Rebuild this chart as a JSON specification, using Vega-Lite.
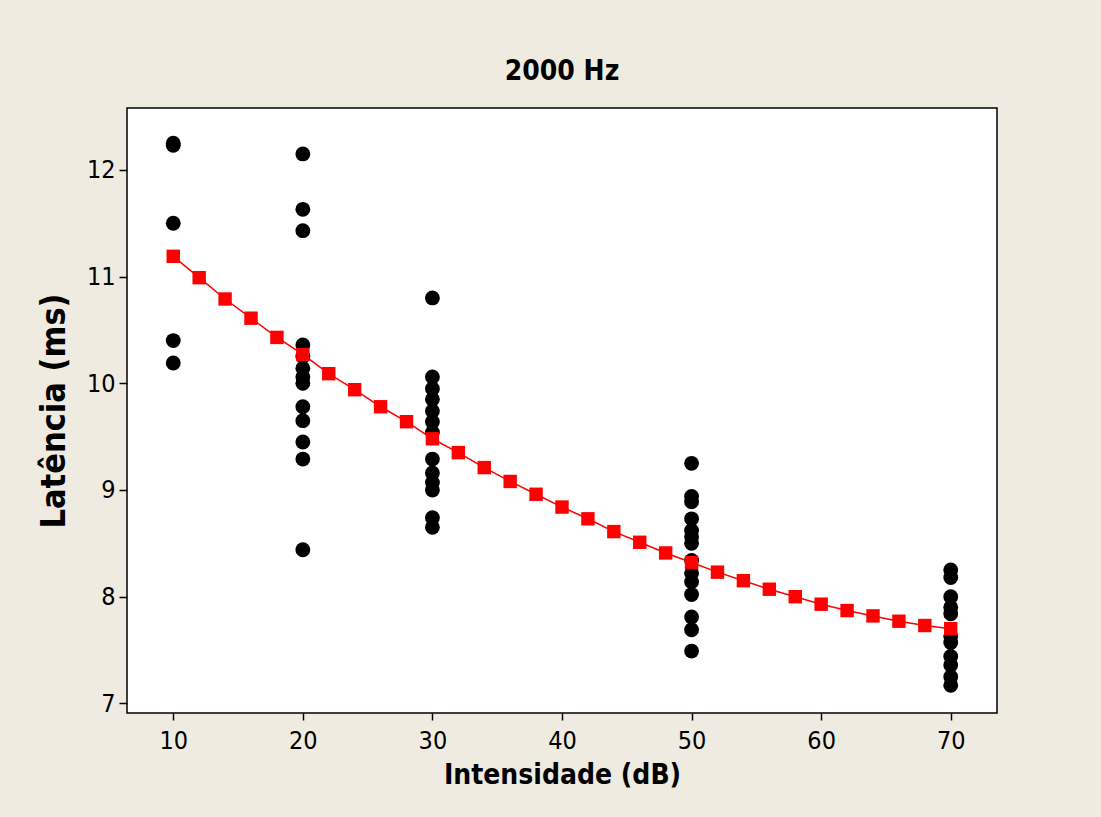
{
  "$schema": "https://vega.github.io/schema/vega-lite/v6.json",
  "width": 870,
  "height": 605,
  "autosize": {"type": "none"},
  "padding": {"left": 127, "top": 108, "right": 104, "bottom": 104},
  "background": "#EFEBE1",
  "title": {
    "text": "2000 Hz",
    "font": "Tahoma, DejaVu Sans Condensed, DejaVu Sans",
    "fontSize": 28,
    "fontWeight": "bold",
    "color": "black",
    "anchor": "middle",
    "offset": 22
  },
  "config": {
    "view": {"fill": "white", "stroke": "black", "strokeWidth": 1.5},
    "axis": {
      "domain": false,
      "grid": false,
      "tickColor": "black",
      "tickWidth": 1.5,
      "labelColor": "black",
      "labelFont": "Tahoma, DejaVu Sans Condensed, DejaVu Sans",
      "labelFontSize": 25,
      "titleFont": "Tahoma, DejaVu Sans Condensed, DejaVu Sans",
      "titleFontSize": 28,
      "titleFontWeight": "bold",
      "titleColor": "black"
    }
  },
  "datasets": {
    "obs": [
      {"intensidade": 10, "latencia": 12.25},
      {"intensidade": 10, "latencia": 12.23},
      {"intensidade": 10, "latencia": 11.50},
      {"intensidade": 10, "latencia": 10.40},
      {"intensidade": 10, "latencia": 10.19},
      {"intensidade": 20, "latencia": 12.15},
      {"intensidade": 20, "latencia": 11.63},
      {"intensidade": 20, "latencia": 11.43},
      {"intensidade": 20, "latencia": 10.36},
      {"intensidade": 20, "latencia": 10.25},
      {"intensidade": 20, "latencia": 10.14},
      {"intensidade": 20, "latencia": 10.06},
      {"intensidade": 20, "latencia": 10.00},
      {"intensidade": 20, "latencia": 9.78},
      {"intensidade": 20, "latencia": 9.65},
      {"intensidade": 20, "latencia": 9.45},
      {"intensidade": 20, "latencia": 9.29},
      {"intensidade": 20, "latencia": 8.44},
      {"intensidade": 30, "latencia": 10.80},
      {"intensidade": 30, "latencia": 10.06},
      {"intensidade": 30, "latencia": 9.95},
      {"intensidade": 30, "latencia": 9.85},
      {"intensidade": 30, "latencia": 9.74},
      {"intensidade": 30, "latencia": 9.64},
      {"intensidade": 30, "latencia": 9.54},
      {"intensidade": 30, "latencia": 9.29},
      {"intensidade": 30, "latencia": 9.16},
      {"intensidade": 30, "latencia": 9.07},
      {"intensidade": 30, "latencia": 9.00},
      {"intensidade": 30, "latencia": 8.74},
      {"intensidade": 30, "latencia": 8.65},
      {"intensidade": 50, "latencia": 9.25},
      {"intensidade": 50, "latencia": 8.94},
      {"intensidade": 50, "latencia": 8.89},
      {"intensidade": 50, "latencia": 8.73},
      {"intensidade": 50, "latencia": 8.62},
      {"intensidade": 50, "latencia": 8.56},
      {"intensidade": 50, "latencia": 8.50},
      {"intensidade": 50, "latencia": 8.34},
      {"intensidade": 50, "latencia": 8.22},
      {"intensidade": 50, "latencia": 8.14},
      {"intensidade": 50, "latencia": 8.02},
      {"intensidade": 50, "latencia": 7.81},
      {"intensidade": 50, "latencia": 7.69},
      {"intensidade": 50, "latencia": 7.49},
      {"intensidade": 70, "latencia": 8.25},
      {"intensidade": 70, "latencia": 8.18},
      {"intensidade": 70, "latencia": 8.00},
      {"intensidade": 70, "latencia": 7.90},
      {"intensidade": 70, "latencia": 7.84},
      {"intensidade": 70, "latencia": 7.63},
      {"intensidade": 70, "latencia": 7.57},
      {"intensidade": 70, "latencia": 7.44},
      {"intensidade": 70, "latencia": 7.36},
      {"intensidade": 70, "latencia": 7.25},
      {"intensidade": 70, "latencia": 7.17}
    ],
    "fit": [
      {"intensidade": 10, "latencia": 11.19},
      {"intensidade": 12, "latencia": 10.99},
      {"intensidade": 14, "latencia": 10.79},
      {"intensidade": 16, "latencia": 10.61},
      {"intensidade": 18, "latencia": 10.43},
      {"intensidade": 20, "latencia": 10.27},
      {"intensidade": 22, "latencia": 10.09},
      {"intensidade": 24, "latencia": 9.94},
      {"intensidade": 26, "latencia": 9.78},
      {"intensidade": 28, "latencia": 9.64},
      {"intensidade": 30, "latencia": 9.48},
      {"intensidade": 32, "latencia": 9.35},
      {"intensidade": 34, "latencia": 9.21},
      {"intensidade": 36, "latencia": 9.08},
      {"intensidade": 38, "latencia": 8.96},
      {"intensidade": 40, "latencia": 8.84},
      {"intensidade": 42, "latencia": 8.73},
      {"intensidade": 44, "latencia": 8.61},
      {"intensidade": 46, "latencia": 8.51},
      {"intensidade": 48, "latencia": 8.41},
      {"intensidade": 50, "latencia": 8.32},
      {"intensidade": 52, "latencia": 8.23},
      {"intensidade": 54, "latencia": 8.15},
      {"intensidade": 56, "latencia": 8.07},
      {"intensidade": 58, "latencia": 8.00},
      {"intensidade": 60, "latencia": 7.93},
      {"intensidade": 62, "latencia": 7.87},
      {"intensidade": 64, "latencia": 7.82},
      {"intensidade": 66, "latencia": 7.77},
      {"intensidade": 68, "latencia": 7.73},
      {"intensidade": 70, "latencia": 7.70}
    ]
  },
  "encoding": {
    "x": {
      "field": "intensidade",
      "type": "quantitative",
      "scale": {"domain": [6.43, 73.57], "nice": false, "zero": false},
      "axis": {
        "values": [10, 20, 30, 40, 50, 60, 70],
        "tickSize": 7,
        "labelPadding": 8,
        "title": "Intensidade (dB)",
        "titlePadding": 8
      }
    },
    "y": {
      "field": "latencia",
      "type": "quantitative",
      "scale": {"domain": [6.91, 12.58], "nice": false, "zero": false},
      "axis": {
        "values": [7, 8, 9, 10, 11, 12],
        "tickSize": 8,
        "labelPadding": 4,
        "title": "Latência (ms)",
        "titleFontSize": 34,
        "titlePadding": 15
      }
    }
  },
  "layer": [
    {
      "data": {"name": "obs"},
      "mark": {"type": "point", "shape": "circle", "filled": true, "color": "black", "size": 220, "opacity": 1}
    },
    {
      "data": {"name": "fit"},
      "mark": {
        "type": "line",
        "color": "#FF0000",
        "strokeWidth": 1.5,
        "point": {"shape": "square", "filled": true, "color": "#FF0000", "size": 180, "opacity": 1}
      }
    }
  ]
}
